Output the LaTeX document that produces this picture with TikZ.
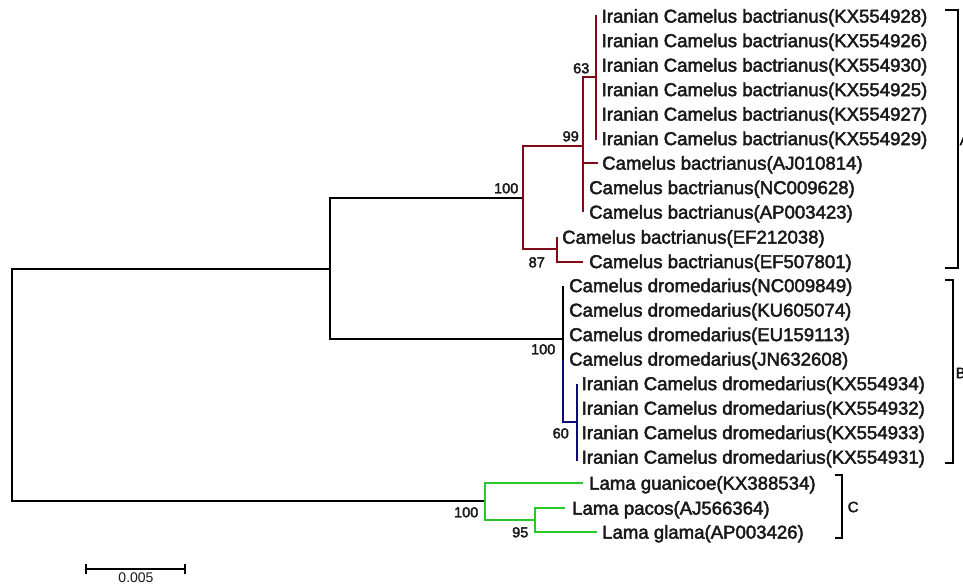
\documentclass[tikz,border=0pt]{standalone}
\usepackage{fontspec}
\setmainfont{Liberation Sans}
\newfontfamily\boldish[FakeBold=2.4]{Liberation Sans}
\definecolor{clA}{RGB}{130,10,20}
\definecolor{clB}{RGB}{10,10,120}
\definecolor{clC}{RGB}{40,200,40}
\definecolor{txt}{RGB}{25,25,25}
\begin{document}
\begin{tikzpicture}[x=1pt,y=-1pt,
  br/.style={line width=2pt, line join=miter, line cap=butt},
  leaf/.style={anchor=base west, inner sep=0pt, text=txt, font=\boldish\fontsize{18.6}{20}\selectfont},
  boot/.style={anchor=base east, inner sep=0pt, text=txt, font=\boldish\fontsize{14.5}{16}\selectfont},
  grp/.style={anchor=west, inner sep=0pt, text=txt, font=\boldish\fontsize{15}{16}\selectfont},
  brk/.style={line width=1.8pt, line join=miter}]
\useasboundingbox[fill=white] (0,0) rectangle (963,584);

% internal nodes
\coordinate (root) at (12,384.5);
\coordinate (Ncam) at (330,268.5);
\coordinate (NA) at (523,198);
\coordinate (N99) at (583,146);
\coordinate (N63) at (596,77);
\coordinate (N87) at (557,249);
\coordinate (NB) at (563,339);
\coordinate (N60) at (577,422);
\coordinate (NC) at (485,501);
\coordinate (N95) at (535,520);

% tips
\coordinate (T1) at (596,15);
\coordinate (T2) at (596,40.5);
\coordinate (T3) at (596,65);
\coordinate (T4) at (596,89.5);
\coordinate (T5) at (596,114);
\coordinate (T6) at (596,140);
\coordinate (T7) at (598,163);
\coordinate (T8) at (583,187.5);
\coordinate (T9) at (583,212);
\coordinate (T10) at (557,237);
\coordinate (T11) at (583,261.5);
\coordinate (T12) at (563,285.5);
\coordinate (T13) at (563,310);
\coordinate (T14) at (563,334.5);
\coordinate (T15) at (563,359);
\coordinate (T16) at (577,383.5);
\coordinate (T17) at (577,408);
\coordinate (T18) at (577,432.5);
\coordinate (T19) at (577,461);
\coordinate (T20) at (583,483);
\coordinate (T21) at (565,508);
\coordinate (T22) at (597,532);

% leaf labels
\node[leaf] (L1) at (601.5,16+6.6) {Iranian Camelus bactrianus(KX554928)};
\node[leaf] (L2) at (601.5,40.5+6.6) {Iranian Camelus bactrianus(KX554926)};
\node[leaf] (L3) at (601.5,65+6.6) {Iranian Camelus bactrianus(KX554930)};
\node[leaf] (L4) at (601.5,89.5+6.6) {Iranian Camelus bactrianus(KX554925)};
\node[leaf] (L5) at (601.5,114+6.6) {Iranian Camelus bactrianus(KX554927)};
\node[leaf] (L6) at (601.5,138.5+6.6) {Iranian Camelus bactrianus(KX554929)};
\node[leaf] (L7) at (602,163+6.6) {Camelus bactrianus(AJ010814)};
\node[leaf] (L8) at (589,187.5+6.6) {Camelus bactrianus(NC009628)};
\node[leaf] (L9) at (589,212+6.6) {Camelus bactrianus(AP003423)};
\node[leaf] (L10) at (562,237+6.6) {Camelus bactrianus(EF212038)};
\node[leaf] (L11) at (589,261.5+6.6) {Camelus bactrianus(EF507801)};
\node[leaf] (L12) at (569,285.5+6.6) {Camelus dromedarius(NC009849)};
\node[leaf] (L13) at (569,310+6.6) {Camelus dromedarius(KU605074)};
\node[leaf] (L14) at (569,334.5+6.6) {Camelus dromedarius(EU159113)};
\node[leaf] (L15) at (569,359+6.6) {Camelus dromedarius(JN632608)};
\node[leaf] (L16) at (581.5,383.5+6.6) {Iranian Camelus dromedarius(KX554934)};
\node[leaf] (L17) at (581.5,408+6.6) {Iranian Camelus dromedarius(KX554932)};
\node[leaf] (L18) at (581.5,432.5+6.6) {Iranian Camelus dromedarius(KX554933)};
\node[leaf] (L19) at (581.5,457+6.6) {Iranian Camelus dromedarius(KX554931)};
\node[leaf] (L20) at (589,483+6.6) {Lama guanicoe(KX388534)};
\node[leaf] (L21) at (572,508+6.6) {Lama pacos(AJ566364)};
\node[leaf] (L22) at (602,532+6.6) {Lama glama(AP003426)};

% black backbone
\draw[br] (Ncam) -| (root) |- (NC);
\draw[br] (NA) -| (Ncam) |- (NB);

% clade A (red)
\draw[br,clA] (N99) -| (NA) |- (N87);
\draw[br,clA] (N63) -| (N99) |- (T9);
\draw[br,clA] (N99) |- (T7);
\draw[br,clA] (N99) |- (T8);
\draw[br,clA] (N63) |- (T1);
\draw[br,clA] (N63) |- (T6);
\draw[br,clA] (N87) |- (T10);
\draw[br,clA] (N87) |- (T11);

% clade B
\draw[br,clB] (T14) |- (N60);
\draw[br,clB] (N60) |- (T16);
\draw[br,clB] (N60) |- (T19);
\draw[br] (NB) |- (T12);
\draw[br] (NB) |- (T13);
\draw[br] (NB) |- (T14);
\draw[br] (NB) |- (T15);

% clade C (green)
\draw[br,clC] (N95) -| (NC) |- (T20);
\draw[br,clC] (N95) |- (T21);
\draw[br,clC] (N95) |- (T22);

% bootstrap values
\node[boot] (b63) at (589.5,68+5.3) {63};
\node[boot] (b99) at (579,136+5.3) {99};
\node[boot] (b100a) at (518.5,188+5.3) {100};
\node[boot] (b87) at (545,262+5.3) {87};
\node[boot] (b100b) at (555.5,349+5.3) {100};
\node[boot] (b60) at (569,433+5.3) {60};
\node[boot] (b100c) at (478.5,512+5.3) {100};
\node[boot] (b95) at (528.5,532+5.3) {95};

% group brackets
\draw[brk] (945,10) -- (958,10) -- (958,268) -- (945,268);
\node[grp] (gA) at (959.5,140) {A};
\draw[brk] (945,280) -- (953,280) -- (953,463) -- (945,463);
\node[grp] (gB) at (955.5,373) {B};
\draw[brk] (835,475) -- (842,475) -- (842,538) -- (835,538);
\node[grp] (gC) at (847.5,507) {C};

% scale bar
\coordinate (s1) at (86,569);
\coordinate (s2) at (185,569);
\draw[line width=1.8pt] (s1) -- (s2);
\draw[line width=1.8pt] ([yshift=-5]s1) -- ([yshift=5]s1);
\draw[line width=1.8pt] ([yshift=-5]s2) -- ([yshift=5]s2);
\node[inner sep=0pt, anchor=base, text=txt, font=\fontsize{14}{16}\selectfont] (sl) at (136,582) {0.005};
\end{tikzpicture}
\end{document}
